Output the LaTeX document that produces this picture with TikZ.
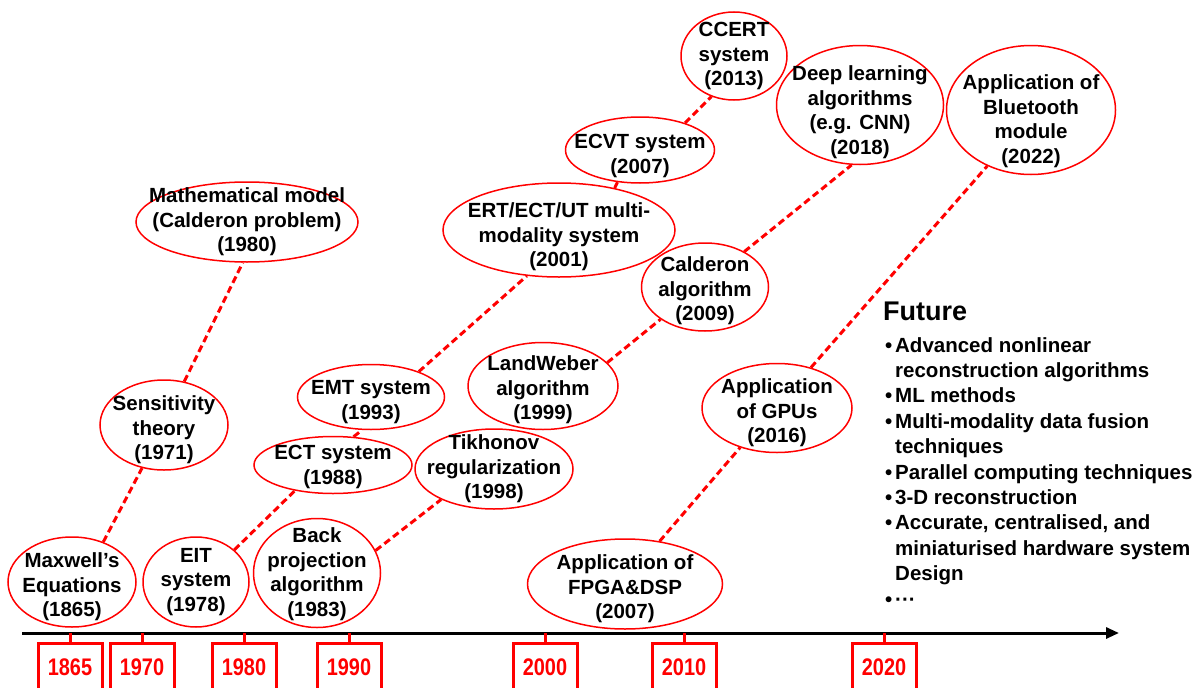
\documentclass[tikz,border=0pt]{standalone}
\usepackage{fontspec}
\setmainfont{Liberation Sans}
\newfontfamily\yearfont[FakeStretch=0.83]{Liberation Sans}
\usetikzlibrary{shapes.geometric,arrows.meta}
\newcommand\mkbul{\makebox[10pt][l]{•}}
\newcommand\mkind{\hspace*{10pt}}
\tikzset{
 ev/.style={ellipse, draw=red, line width=1.5pt, inner sep=0pt},
 txt/.style={align=center, font=\fontsize{20.5}{24.5}\selectfont\bfseries, inner sep=0pt},
 link/.style={draw=red, line width=3pt, dash pattern=on 7pt off 4pt},
 yearlab/.style={text=red, font=\yearfont\fontsize{24}{28}\selectfont\bfseries, inner sep=0pt},
 yearbox/.style={draw=red, line width=3pt},
 axisline/.style={draw=black, line width=3pt, -{Triangle[length=13pt,width=11pt]}},
}
\begin{document}
\begin{tikzpicture}[x=1pt,y=-1pt]
\fill[white] (0,0) rectangle (1200,688);
\useasboundingbox (0,0) rectangle (1200,688);

% ellipses
\node[ev, minimum width=128pt, minimum height=90pt]  (maxwell) at (72,582) {};
\node[ev, minimum width=106pt, minimum height=90pt]  (eit)     at (196,582) {};
\node[ev, minimum width=127pt, minimum height=109pt] (back)    at (317,573) {};
\node[ev, minimum width=128pt, minimum height=90pt]  (sens)    at (164,425) {};
\node[ev, minimum width=222pt, minimum height=80pt]  (math)    at (247,222) {};
\node[ev, minimum width=158pt, minimum height=57pt]  (ect)     at (333,465) {};
\node[ev, minimum width=147pt, minimum height=65pt]  (emt)     at (371,397) {};
\node[ev, minimum width=158pt, minimum height=80pt]  (tik)     at (494,469) {};
\node[ev, minimum width=150pt, minimum height=87pt]  (land)    at (543,386) {};
\node[ev, minimum width=232pt, minimum height=94pt]  (ert)     at (559,230) {};
\node[ev, minimum width=149pt, minimum height=66pt]  (ecvt)    at (640,150) {};
\node[ev, minimum width=106pt, minimum height=88pt]  (ccert)   at (734,56) {};
\node[ev, minimum width=127pt, minimum height=88pt]  (cald)    at (705,287) {};
\node[ev, minimum width=167pt, minimum height=119pt] (deep)    at (860,105) {};
\node[ev, minimum width=169pt, minimum height=129pt] (blue)    at (1031,110) {};
\node[ev, minimum width=150pt, minimum height=89pt]  (gpu)     at (777,408) {};
\node[ev, minimum width=195pt, minimum height=90pt]  (fpga)    at (625,584) {};

% texts
\node[txt] (maxwellT) at (72,587)  {Maxwell’s\\Equations\\(1865)};
\node[txt] (eitT)     at (196,582) {EIT\\system\\(1978)};
\node[txt] (backT)    at (317,574) {Back\\projection\\algorithm\\(1983)};
\node[txt] (sensT)    at (164,430) {Sensitivity\\theory\\(1971)};
\node[txt] (mathT)    at (247,222) {Mathematical model\\(Calderon problem)\\(1980)};
\node[txt] (ectT)     at (333,467) {ECT system\\(1988)};
\node[txt] (emtT)     at (371,402) {EMT system\\(1993)};
\node[txt] (tikT)     at (494,469) {Tikhonov\\regularization\\(1998)};
\node[txt] (landT)    at (543,390) {LandWeber\\algorithm\\(1999)};
\node[txt] (ertT)     at (559,237) {ERT/ECT/UT multi-\\modality system\\(2001)};
\node[txt] (ecvtT)    at (640,156) {ECVT system\\(2007)};
\node[txt] (ccertT)   at (734,56)  {CCERT\\system\\(2013)};
\node[txt] (caldT)    at (705,291) {Calderon\\algorithm\\(2009)};
\node[txt] (deepT)    at (860,112) {Deep learning\\algorithms\\(e.g. CNN)\\(2018)};
\node[txt] (blueT)    at (1031,121) {Application of\\Bluetooth\\module\\(2022)};
\node[txt] (gpuT)     at (777,413) {Application\\of GPUs\\(2016)};
\node[txt] (fpgaT)    at (625,589) {Application of\\FPGA\&DSP\\(2007)};

% dashed connectors
\draw[link] (maxwell.52) -- (sens.243);
\draw[link] (sens.65) -- (math.264);
\draw[link] (eit.40) -- (ect.214);
\draw[link] (ect.54) -- (emt.255);
\draw[link] (emt.28) -- (ert.235);
\draw[link] (ert.37) -- (ecvt.235);
\draw[link] (ecvt.31) -- (ccert.241);
\draw[link] (back.21) -- (tik.210);
\draw[link] (land.20) -- (cald.216);
\draw[link] (cald.42) -- (deep.262);
\draw[link] (fpga.51) -- (gpu.227);
\draw[link] (gpu.50) -- (blue.232);

% future
\node[anchor=base west, inner sep=0pt, font=\fontsize{27}{30}\selectfont\bfseries] (fut) at (883,320) {Future};
\node[anchor=base west, inner sep=0pt, align=left, font=\fontsize{20.5}{25.4}\selectfont\bfseries] (futlist) at (885,606)
 {\mkbul Advanced nonlinear\\
  \mkind reconstruction algorithms\\
  \mkbul ML methods\\
  \mkbul Multi-modality data fusion\\
  \mkind techniques\\
  \mkbul Parallel computing techniques\\
  \mkbul 3-D reconstruction\\
  \mkbul Accurate, centralised, and\\
  \mkind miniaturised hardware system\\
  \mkind Design\\
  \mkbul ···};

% axis
\coordinate (axS) at (22,633);
\coordinate (axE) at (1119,633);
\draw[axisline] (axS) -- (axE);

% years
\foreach \yr/\xx in {1865/70,1970/142,1980/244,1990/349,2000/545,2010/684,2020/884} {
  \node[yearlab] (y\yr) at (\xx,667) {\yr};
  \draw[yearbox] (\xx-32,694) |- (\xx+32,643) -- (\xx+32,694);
  \draw[yearbox] (\xx,633) -- (\xx,643);
}
\end{tikzpicture}
\end{document}
